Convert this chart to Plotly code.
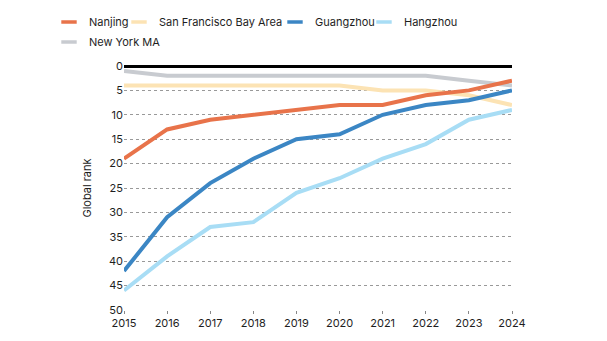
import plotly.graph_objects as go

years = [2015, 2016, 2017, 2018, 2019, 2020, 2021, 2022, 2023, 2024]

nanjing = [19, 13, 11, 10, 9, 8, 8, 6, 5, 3]
san_francisco = [4, 4, 4, 4, 4, 4, 5, 5, 6, 8]
guangzhou = [42, 31, 24, 19, 15, 14, 10, 8, 7, 5]
hangzhou = [46, 39, 33, 32, 26, 23, 19, 16, 11, 9]
new_york = [1, 2, 2, 2, 2, 2, 2, 2, 3, 4]

W, H = 607, 341

# name, values, colour, legend slot (left edge of label in px, row centre in px)
series = [
    ("Nanjing", nanjing, "#E8734A", (91, 22)),
    ("San Francisco Bay Area", san_francisco, "#FCE3B4", (161, 22)),
    ("Guangzhou", guangzhou, "#3B86C4", (317, 22)),
    ("Hangzhou", hangzhou, "#A8DDF5", (406, 22)),
    ("New York MA", new_york, "#C8CBD0", (91, 42)),
]

# draw order: back to front
draw_order = ["New York MA", "San Francisco Bay Area", "Hangzhou", "Guangzhou", "Nanjing"]

fig = go.Figure()
lookup = {s[0]: s for s in series}
for name in draw_order:
    _, vals, col, _ = lookup[name]
    fig.add_trace(go.Scatter(
        x=years, y=vals, mode="lines", name=name, showlegend=False,
        line=dict(color=col, width=4), hoverinfo="x+y+name",
    ))

# one small legend per entry so the entries flow like a wrapped row
TEXT_OFFSET = 42
legend_layout = {}
for i, (name, vals, col, (tx, ty)) in enumerate(series):
    key = "legend" if i == 0 else f"legend{i + 1}"
    fig.add_trace(go.Scatter(
        x=[None], y=[None], mode="markers", name=name, showlegend=True,
        legend=key,
        marker=dict(symbol="line-ew", size=11, line=dict(color=col, width=3.5)),
    ))
    legend_layout[key] = dict(
        orientation="h", xref="container", yref="container",
        x=(tx - TEXT_OFFSET) / W, xanchor="left",
        y=1 - ty / H, yanchor="middle",
        font=dict(size=11, color="#1e1e1e"), bgcolor="rgba(0,0,0,0)",
        itemwidth=30, tracegroupgap=0,
    )

fig.update_layout(
    width=W, height=H,
    margin=dict(l=124, r=95, t=66, b=31, autoexpand=False),
    paper_bgcolor="white", plot_bgcolor="white",
    font=dict(family="Inter, Roboto, sans-serif", size=11, color="#1e1e1e"),
    showlegend=True,
    **legend_layout,
)

fig.update_xaxes(
    range=[2015, 2024], tickmode="array", tickvals=years,
    ticks="outside", ticklen=3, tickcolor="#888", showgrid=False,
    zeroline=False, showline=False, tickfont=dict(size=11),
)
fig.update_yaxes(
    range=[50, 0], tickmode="array", tickvals=list(range(0, 55, 5)),
    showgrid=True, gridcolor="#999", griddash="dot", gridwidth=1,
    zeroline=True, zerolinecolor="#000", zerolinewidth=3,
    showline=False, ticks="", tickfont=dict(size=11),
    title=dict(text="Global rank", font=dict(size=11), standoff=15),
)

fig.write_html("out.html")
